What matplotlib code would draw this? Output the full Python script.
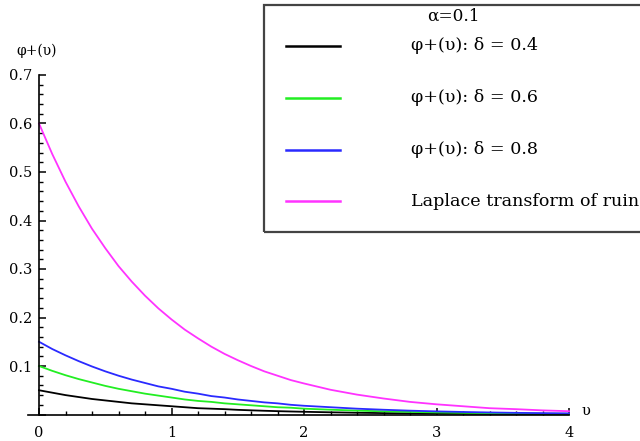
import matplotlib
matplotlib.use('Agg')
import matplotlib.pyplot as plt
from matplotlib.patches import Rectangle
from matplotlib.lines import Line2D
from matplotlib.ticker import MultipleLocator, FuncFormatter

plt.rcParams['font.family'] = ['DejaVu Serif']

# values (finer steps where the curves bend most)
v = [0.0, 0.1, 0.2, 0.3, 0.4, 0.5, 0.6, 0.7, 0.8, 0.9, 1.0,
     1.1, 1.2, 1.3, 1.4, 1.5, 1.6, 1.7, 1.8, 1.9, 2.0,
     2.2, 2.4, 2.6, 2.8, 3.0, 3.2, 3.4, 3.6, 3.8, 4.0]
phi_d04 = [0.050, 0.045, 0.040, 0.036, 0.032, 0.029, 0.026, 0.023, 0.021, 0.019, 0.017,
           0.015, 0.013, 0.012, 0.011, 0.0096, 0.0086, 0.0077, 0.0069, 0.0062, 0.0056,
           0.0045, 0.0036, 0.0029, 0.0023, 0.0019, 0.0015, 0.0012, 0.0010, 0.0008, 0.0006]
phi_d06 = [0.100, 0.090, 0.081, 0.073, 0.066, 0.059, 0.053, 0.048, 0.043, 0.039, 0.035,
           0.031, 0.028, 0.026, 0.023, 0.021, 0.019, 0.017, 0.015, 0.014, 0.012,
           0.0099, 0.0080, 0.0065, 0.0053, 0.0043, 0.0035, 0.0028, 0.0023, 0.0018, 0.0015]
phi_d08 = [0.150, 0.135, 0.122, 0.110, 0.099, 0.089, 0.080, 0.072, 0.065, 0.058, 0.053,
           0.047, 0.043, 0.038, 0.035, 0.031, 0.028, 0.025, 0.023, 0.020, 0.018,
           0.015, 0.012, 0.0098, 0.0079, 0.0064, 0.0052, 0.0042, 0.0034, 0.0028, 0.0023]
laplace = [0.600, 0.537, 0.480, 0.429, 0.383, 0.343, 0.306, 0.274, 0.245, 0.219, 0.196,
           0.175, 0.157, 0.140, 0.125, 0.112, 0.100, 0.089, 0.080, 0.071, 0.064,
           0.051, 0.041, 0.033, 0.026, 0.021, 0.017, 0.013, 0.011, 0.0085, 0.0068]

series = [phi_d04, phi_d06, phi_d08, laplace]
labels = ['φ+(υ): δ = 0.4', 'φ+(υ): δ = 0.6', 'φ+(υ): δ = 0.8',
          'Laplace transform of ruin probability']
colors = ['#000000', '#22ee22', '#2a2aff', '#ff33ff']

W, H = 640, 441


def fx(px):
    return px / W


def fy(py):
    return 1 - py / H


fig = plt.figure(figsize=(6.4, 4.41), dpi=100)
ax = fig.add_axes([fx(39), 26.5 / H, 530 / W, 339.5 / H])

for ys, c in zip(series, colors):
    ax.plot(v, ys, color=c, lw=1.3, clip_on=False)

ax.set_xlim(0, 4)
ax.set_ylim(0, 0.7)
ax.spines['top'].set_visible(False)
ax.spines['right'].set_visible(False)
ax.spines['left'].set_linewidth(1.2)
ax.spines['bottom'].set_linewidth(1.2)
ax.spines['bottom'].set_bounds(-0.08, 4)

ax.xaxis.set_major_locator(MultipleLocator(1))
ax.xaxis.set_minor_locator(MultipleLocator(0.2))
ax.yaxis.set_major_locator(MultipleLocator(0.1))
ax.yaxis.set_minor_locator(MultipleLocator(0.02))
ax.yaxis.set_major_formatter(FuncFormatter(lambda y, p: '' if abs(y) < 1e-9 else f'{y:.1f}'))
ax.xaxis.set_major_formatter(FuncFormatter(lambda x, p: f'{x:.0f}'))
ax.tick_params(which='major', direction='in', length=5, width=1.1, labelsize=10.5)
ax.tick_params(axis='y', which='major', pad=5)
ax.tick_params(axis='x', which='major', pad=8.5)
ax.tick_params(which='minor', direction='in', length=3, width=1.0)

fig.text(fx(37), fy(51), 'φ+(υ)', ha='center', va='center', fontsize=10)
fig.text(fx(586), fy(411), 'υ', ha='center', va='center', fontsize=10.5)

# legend box
fig.add_artist(Rectangle((fx(264), fy(232)), (720 - 264) / W, (232 - 5) / H,
                         transform=fig.transFigure, fill=False, ec='#444444', lw=1.6))
fig.text(fx(427), fy(16), 'α=0.1', ha='left', va='center', fontsize=12.2)
rows = [46, 98, 150, 201]
for lab, c, r in zip(labels, colors, rows):
    fig.add_artist(Line2D([fx(286), fx(340)], [fy(r), fy(r)], color=c, lw=1.8,
                          transform=fig.transFigure))
    fig.text(fx(411), fy(r), lab, ha='left', va='center', fontsize=12.6)

fig.savefig('out.png', dpi=100)
